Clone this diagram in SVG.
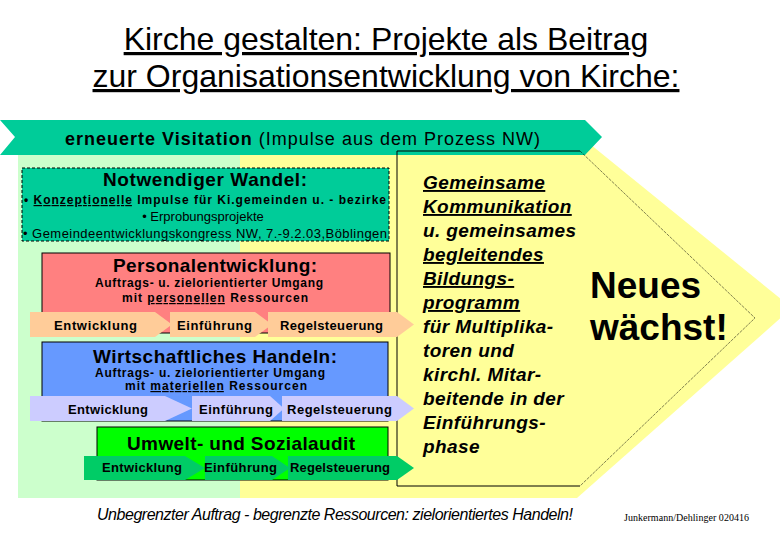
<svg xmlns="http://www.w3.org/2000/svg" width="780" height="540" viewBox="0 0 780 540">
<style>
text{font-family:"Liberation Sans",Arial,sans-serif;fill:#000}
.t{font-size:32px}
.h{font-size:19px;font-weight:bold}
.s{font-size:12px;font-weight:bold}
.lb{font-size:13px;font-weight:bold}
.r{font-size:19px;font-weight:bold;font-style:italic;letter-spacing:0.4px}
.u{text-decoration:underline}
</style>
<rect width="780" height="540" fill="#fff"/>
<g id="title">
<text class="t u" x="386" y="50" text-anchor="middle">Kirche gestalten: Projekte als Beitrag</text>
<text class="t u" x="386" y="87" text-anchor="middle">zur Organisationsentwicklung von Kirche:</text>
</g>
<g id="background">
<polygon points="240,153 585,140 792,308 577,498 240,498" fill="#FFFF99"/>
<rect x="18" y="155" width="222" height="343" fill="#CCFFCC"/>
</g>
<g id="banner">
<polygon points="0,120 585,120 602,137 585,155 0,155 15,137" fill="#00CC99"/>
<text x="65" y="145" font-size="18" textLength="475" lengthAdjust="spacing"><tspan font-weight="bold">erneuerte Visitation</tspan> (Impulse aus dem Prozess NW)</text>
</g>
<g id="kommunikation">
<path d="M580,151 H397 V486 H580" fill="none" stroke="#000" stroke-width="1"/>
<path d="M580,151 L755,318 L580,486" fill="none" stroke="#000" stroke-width="0.5" stroke-dasharray="3,1"/>
<text class="r u" x="423" y="189">Gemeinsame</text>
<text class="r u" x="423" y="213">Kommunikation</text>
<text class="r" x="423" y="237">u. gemeinsames</text>
<text class="r u" x="423" y="261">begleitendes</text>
<text class="r u" x="423" y="285">Bildungs-</text>
<text class="r u" x="423" y="309">programm</text>
<text class="r" x="423" y="333">für Multiplika-</text>
<text class="r" x="423" y="357">toren und</text>
<text class="r" x="423" y="381">kirchl. Mitar-</text>
<text class="r" x="423" y="405">beitende in der</text>
<text class="r" x="423" y="429">Einführungs-</text>
<text class="r" x="423" y="453">phase</text>
</g>
<g id="neues">
<text x="590" y="298" font-size="37" font-weight="bold">Neues</text>
<text x="590" y="340" font-size="37" font-weight="bold">wächst!</text>
</g>
<g id="wandel">
<rect x="22" y="168" width="367" height="73" fill="#00CC99" stroke="#000" stroke-width="1" stroke-dasharray="3,2"/>
<text class="h" x="103" y="186" textLength="204" lengthAdjust="spacing">Notwendiger Wandel:</text>
<text x="24" y="204" font-size="12" font-weight="bold" textLength="362" lengthAdjust="spacing">• <tspan class="u">Konzeptionelle</tspan> Impulse für Ki.gemeinden u. - bezirke</text>
<text x="203" y="221" font-size="13" text-anchor="middle">• Erprobungsprojekte</text>
<text x="23" y="238" font-size="13" textLength="364" lengthAdjust="spacing">• Gemeindeentwicklungskongress NW, 7.-9.2.03,Böblingen</text>
</g>
<g id="personal">
<rect x="42" y="253" width="348" height="80" fill="#FF8080" stroke="#000" stroke-width="1"/>
<text class="h" x="113" y="272" textLength="204" lengthAdjust="spacing">Personalentwicklung:</text>
<text class="s" x="95" y="287" textLength="228" lengthAdjust="spacing">Auftrags- u. zielorientierter Umgang</text>
<text class="s" x="122" y="302" textLength="186" lengthAdjust="spacing">mit <tspan class="u">personellen</tspan> Ressourcen</text>
<polygon points="30,312 155,312 172,324.5 155,337 30,337" fill="#FFCC99"/>
<polygon points="170,312 255,312 272,324.5 255,337 170,337" fill="#FFCC99"/>
<polygon points="268,312 397,312 414,324.5 397,337 268,337" fill="#FFCC99"/>
<text class="lb" x="54" y="330" textLength="83" lengthAdjust="spacing">Entwicklung</text>
<text class="lb" x="177" y="330" textLength="75" lengthAdjust="spacing">Einführung</text>
<text class="lb" x="280" y="330" textLength="103" lengthAdjust="spacing">Regelsteuerung</text>
</g>
<g id="wirtschaft">
<rect x="42" y="342" width="346" height="79" fill="#6699FF" stroke="#000" stroke-width="1"/>
<text class="h" x="93" y="363" textLength="244" lengthAdjust="spacing">Wirtschaftliches Handeln:</text>
<text class="s" x="95" y="377" textLength="230" lengthAdjust="spacing">Auftrags- u. zielorientierter Umgang</text>
<text class="s" x="125" y="390" textLength="182" lengthAdjust="spacing">mit <tspan class="u">materiellen</tspan> Ressourcen</text>
<polygon points="30,396 165,396 192,408.5 165,421 30,421" fill="#CCCCFF"/>
<polygon points="192,396 270,396 284,408.5 270,421 192,421" fill="#CCCCFF"/>
<polygon points="282,396 397,396 414,408.5 397,421 282,421" fill="#CCCCFF"/>
<text class="lb" x="68" y="414" textLength="80" lengthAdjust="spacing">Entwicklung</text>
<text class="lb" x="199" y="414" textLength="74" lengthAdjust="spacing">Einführung</text>
<text class="lb" x="287" y="414" textLength="105" lengthAdjust="spacing">Regelsteuerung</text>
</g>
<g id="umwelt">
<rect x="97" y="427" width="291" height="53" fill="#00FF00" stroke="#000" stroke-width="1"/>
<text class="h" x="127" y="450" textLength="228" lengthAdjust="spacing">Umwelt- und Sozialaudit</text>
<polygon points="84,456 185,456 205,468 185,480 84,480" fill="#00CC66"/>
<polygon points="205,456 272,456 290,468 272,480 205,480" fill="#00CC66"/>
<polygon points="288,456 397,456 414,468 397,480 288,480" fill="#00CC66"/>
<text class="lb" x="102" y="472" textLength="80" lengthAdjust="spacing">Entwicklung</text>
<text class="lb" x="204" y="472" textLength="73" lengthAdjust="spacing">Einführung</text>
<text class="lb" x="290" y="472" textLength="100" lengthAdjust="spacing">Regelsteuerung</text>
</g>
<g id="footer">
<text x="97" y="520" font-size="16" font-style="italic" textLength="476" lengthAdjust="spacing">Unbegrenzter Auftrag - begrenzte Ressourcen:  zielorientiertes Handeln!</text>
<text x="624" y="521" font-size="10" textLength="125" lengthAdjust="spacing" style="font-family:'Liberation Serif','Times New Roman',serif">Junkermann/Dehlinger 020416</text>
</g>
</svg>
